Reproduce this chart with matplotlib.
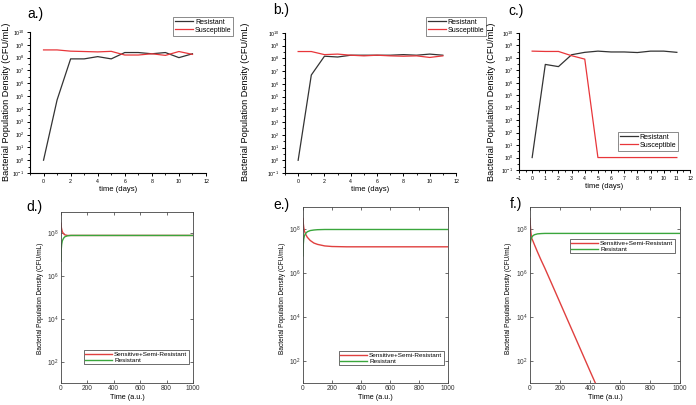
import numpy as np
import matplotlib
matplotlib.use("Agg")
import matplotlib.pyplot as plt
from matplotlib.ticker import FixedLocator, FuncFormatter, NullFormatter

plt.rcParams["font.family"] = ["Liberation Sans", "DejaVu Sans"]
plt.rcParams["mathtext.fontset"] = "custom"
plt.rcParams["mathtext.rm"] = "Liberation Sans"
plt.rcParams["mathtext.default"] = "regular"

# -------------------------
# Experimental data (top row), CFU/mL per day
# -------------------------
days = [0, 1, 2, 3, 4, 5, 6, 7, 8, 9, 10, 11]

a_resistant = [1e0, 5e4, 8e7, 8e7, 1.2e8, 8e7, 2.5e8, 2.5e8, 2e8, 2.5e8, 1e8, 2e8]
a_susceptible = [4e8, 4e8, 3.2e8, 3e8, 2.8e8, 3.1e8, 1.6e8, 1.6e8, 2e8, 1.5e8, 3e8, 1.8e8]

b_resistant = [1e0, 5e6, 1.5e8, 1.3e8, 1.8e8, 1.8e8, 1.8e8, 1.8e8, 2e8, 1.8e8, 2.2e8, 1.8e8]
b_susceptible = [3.5e8, 3.5e8, 2e8, 2.2e8, 1.8e8, 1.6e8, 1.8e8, 1.6e8, 1.5e8, 1.6e8, 1.2e8, 1.6e8]

c_resistant = [1e0, 3e7, 2e7, 1.8e8, 2.8e8, 3.5e8, 3e8, 3e8, 2.7e8, 3.5e8, 3.5e8, 2.8e8]
c_susceptible = [3.5e8, 3.3e8, 3.3e8, 1.5e8, 8e7, 1e0, 1e0, 1e0, 1e0, 1e0, 1e0, 1e0]

# -------------------------
# Model output (bottom row)
# -------------------------
t_model = [0, 2, 5, 10, 20, 30, 50, 75, 100, 150, 200, 300, 400, 500, 600, 700, 800, 900, 1000]

d_sensitive = [3e8, 2e8, 1.6e8, 1.2e8, 9.5e7, 8.5e7, 8e7, 8e7, 8e7, 8e7, 8e7, 8e7, 8e7, 8e7, 8e7, 8e7, 8e7, 8e7, 8e7]
d_resistant = [5e6, 1.8e7, 3e7, 4.5e7, 6e7, 7e7, 7.7e7, 8e7, 8e7, 8e7, 8e7, 8e7, 8e7, 8e7, 8e7, 8e7, 8e7, 8e7, 8e7]

e_sensitive = [3e8, 1.8e8, 1.2e8, 8e7, 5.5e7, 4.2e7, 3e7, 2.3e7, 2e7, 1.7e7, 1.6e7, 1.55e7, 1.55e7, 1.55e7, 1.55e7, 1.55e7, 1.55e7, 1.55e7, 1.55e7]
e_resistant = [6e6, 2e7, 3.5e7, 5e7, 6.5e7, 7.5e7, 8.5e7, 9e7, 9.3e7, 9.5e7, 9.5e7, 9.5e7, 9.5e7, 9.5e7, 9.5e7, 9.5e7, 9.5e7, 9.5e7, 9.5e7]

f_t_sensitive = [0, 2, 5, 10, 20, 30, 50, 75, 100, 150, 200, 250, 300, 350, 400, 450]
f_sensitive = [3e8, 1.6e8, 8e7, 4e7, 2.8e7, 1.9e7, 9e6, 3.7e6, 1.6e6, 2.7e5, 4.5e4, 7.5e3, 1.26e3, 2.1e2, 3.5e1, 6e0]
f_resistant = [6e6, 2e7, 3e7, 4e7, 5e7, 5.5e7, 6e7, 6.2e7, 6.3e7, 6.3e7, 6.3e7, 6.3e7, 6.3e7, 6.3e7, 6.3e7, 6.3e7, 6.3e7, 6.3e7, 6.3e7]

W, H = 696, 405
fig = plt.figure(figsize=(W / 100, H / 100), dpi=100)


def px_axes(x0, x1, y0, y1):
    # pixel box (left, right, top, bottom) -> figure axes
    return fig.add_axes([x0 / W, 1 - y1 / H, (x1 - x0) / W, (y1 - y0) / H])


def px_text(x, y, s, **kw):
    fig.text(x / W, 1 - y / H, s, **kw)


pow_fmt = FuncFormatter(lambda v, p: f"$10^{{{int(round(np.log10(v)))}}}$")

DARK = "#333333"
RED = "#e8363a"
GREEN = "#3aa63c"
MRED = "#e0403f"


# -------------------------
# Top row: Origin-style plots
# -------------------------
def top_panel(box, res, sus, xticks, xminor, legend_at):
    ax = px_axes(*box)
    ax.plot(days, res, color=DARK, lw=0.9, label="Resistant")
    ax.plot(days, sus, color=RED, lw=0.9, label="Susceptible")
    ax.set_yscale("log")
    ax.set_ylim(1e-1, 1e10)
    ax.set_xlim(-1, 12)
    ax.spines["top"].set_visible(False)
    ax.spines["right"].set_visible(False)
    for s in ("left", "bottom"):
        ax.spines[s].set_linewidth(0.8)
    ax.yaxis.set_major_locator(FixedLocator(10.0 ** np.arange(-1, 11)))
    ax.yaxis.set_minor_locator(FixedLocator(10.0 ** (np.arange(-1, 10) + 0.5)))
    ax.yaxis.set_major_formatter(pow_fmt)
    ax.yaxis.set_minor_formatter(NullFormatter())
    ax.xaxis.set_major_locator(FixedLocator(xticks))
    ax.xaxis.set_minor_locator(FixedLocator(xminor))
    ax.tick_params(which="major", direction="out", length=2.5, width=0.7, labelsize=3.8, pad=1.5)
    ax.tick_params(which="minor", direction="out", length=1.5, width=0.6)
    ax.set_xlabel("time (days)", fontsize=5.5, labelpad=2)
    leg = ax.legend(loc="upper left", bbox_to_anchor=(legend_at[0] / W, 1 - legend_at[1] / H),
                    bbox_transform=fig.transFigure, fontsize=5, frameon=True, fancybox=False,
                    borderpad=0.25, handlelength=2.6, handletextpad=0.3, labelspacing=0.15,
                    borderaxespad=0)
    leg.get_frame().set_edgecolor("#555555")
    leg.get_frame().set_linewidth(0.6)
    return ax


top_panel((30, 206, 32, 173), a_resistant, a_susceptible,
          np.arange(0, 13, 2), np.arange(-1, 12, 2), (173, 17))
top_panel((285, 456, 33, 173), b_resistant, b_susceptible,
          np.arange(0, 13, 2), np.arange(-1, 12, 2), (426, 17))
top_panel((519, 690, 33, 170), c_resistant, c_susceptible,
          np.arange(-1, 13, 1), np.arange(-0.5, 12, 1), (618, 132))

ylab = "Bacterial Population Density (CFU/mL)"
for x in (7, 246, 492):
    px_text(x, 102, ylab, rotation=90, ha="center", va="center", fontsize=6.6)


# -------------------------
# Bottom row: MATLAB-style model plots
# -------------------------
def bottom_panel(box, t_s, sens, res, legend_at):
    ax = px_axes(*box)
    ax.plot(t_s, sens, color=MRED, lw=1.0, label="Sensitive+Semi-Resistant")
    ax.plot(t_model, res, color=GREEN, lw=1.0, label="Resistant")
    ax.set_yscale("log")
    ax.set_ylim(1e1, 1e9)
    ax.set_xlim(0, 1000)
    ax.yaxis.set_major_locator(FixedLocator([1e2, 1e4, 1e6, 1e8]))
    ax.yaxis.set_minor_locator(FixedLocator([]))
    ax.yaxis.set_major_formatter(pow_fmt)
    ax.xaxis.set_major_locator(FixedLocator(np.arange(0, 1001, 200)))
    for s in ax.spines.values():
        s.set_linewidth(0.6)
        s.set_color("#444444")
    ax.tick_params(direction="in", top=True, right=True, length=2, width=0.5,
                   labelsize=4.8, pad=1.5, colors="#333333")
    ax.set_xlabel("Time (a.u.)", fontsize=5.2, labelpad=1.5)
    leg = ax.legend(loc="upper left", bbox_to_anchor=(legend_at[0] / W, 1 - legend_at[1] / H),
                    bbox_transform=fig.transFigure, fontsize=4.6, frameon=True, fancybox=False,
                    borderpad=0.2, handlelength=4.2, handletextpad=0.3, labelspacing=0.1,
                    borderaxespad=0, framealpha=1)
    leg.get_frame().set_edgecolor("#333333")
    leg.get_frame().set_linewidth(0.5)
    return ax


bottom_panel((61, 193, 212, 383), t_model, d_sensitive, d_resistant, (84, 350))
bottom_panel((303, 448, 207, 383), t_model, e_sensitive, e_resistant, (339, 351))
bottom_panel((530, 680, 207, 383), f_t_sensitive, f_sensitive, f_resistant, (570, 239))

for x in (41, 282, 509):
    px_text(x, 298, ylab, rotation=90, ha="center", va="center", fontsize=4.7)

# -------------------------
# Panel letters
# -------------------------
for x, y, s in [(35, 14, "a.)"), (281, 10, "b.)"), (516, 11, "c.)"),
                (34, 207, "d.)"), (281, 205, "e.)"), (516, 204, "f.)")]:
    px_text(x, y, s, ha="center", va="center", fontsize=10)

fig.savefig("out.png", dpi=100)
